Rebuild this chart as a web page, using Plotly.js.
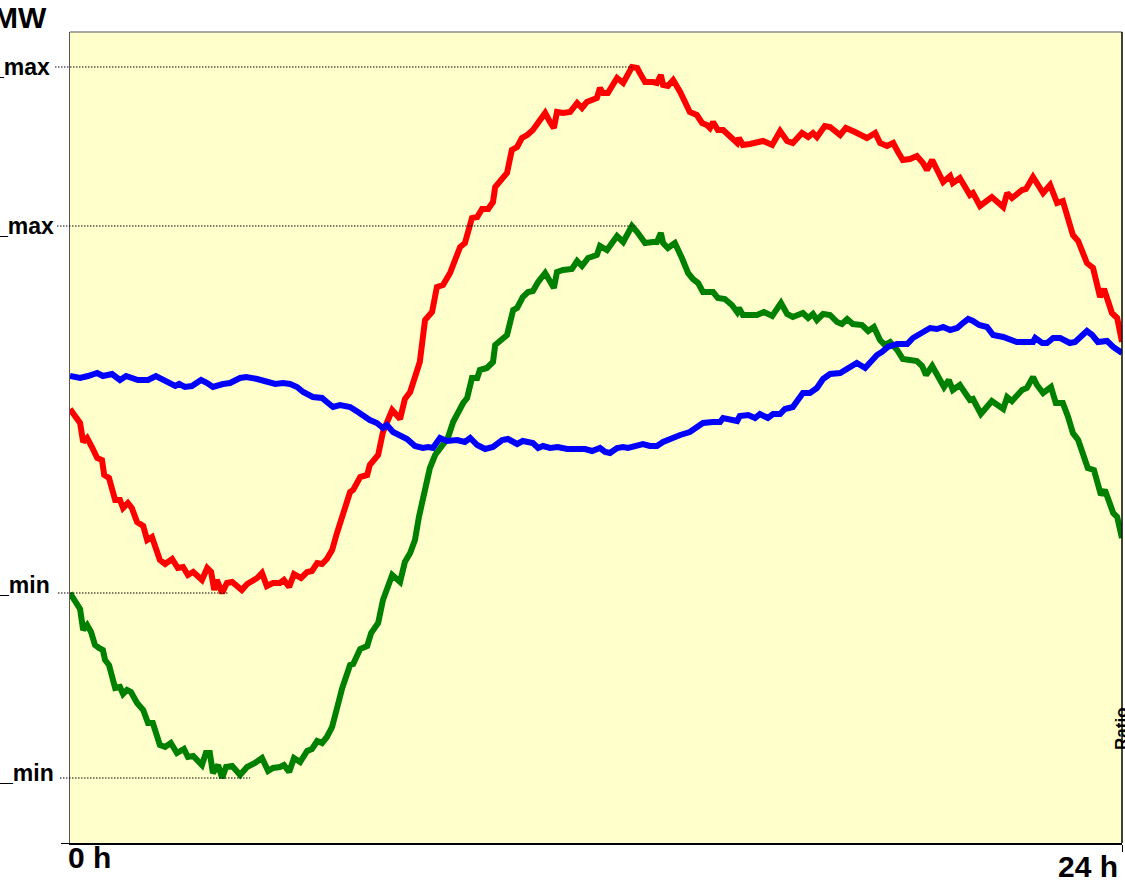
<!DOCTYPE html>
<html>
<head>
<meta charset="utf-8">
<script src="https://cdn.plot.ly/plotly-3.0.1.min.js"></script>
<style>
  html, body { margin: 0; padding: 0; background: #ffffff; }
  #chart { width: 1125px; height: 880px; }
</style>
</head>
<body>
<div id="chart"></div>
<script>
// ---- Data (hours of day, MW in chart units) ----
const redHours = [0,0.23,0.30,0.39,0.50,0.62,0.73,0.78,0.89,1.03,1.14,1.21,1.32,1.41,1.53,1.67,1.76,1.87,2.05,2.17,2.33,2.46,2.58,2.69,2.81,3.01,3.13,3.22,3.29,3.35,3.47,3.58,3.70,3.92,4.04,4.27,4.38,4.49,4.63,4.79,4.88,5.00,5.11,5.27,5.41,5.52,5.64,5.75,5.86,5.98,6.09,6.21,6.39,6.46,6.62,6.78,6.84,7.03,7.14,7.35,7.53,7.64,7.76,7.87,7.98,8.10,8.26,8.37,8.51,8.67,8.78,8.90,9.01,9.17,9.29,9.40,9.54,9.65,9.70,9.86,9.97,10.08,10.20,10.31,10.43,10.56,10.68,10.84,10.95,11.04,11.11,11.25,11.41,11.57,11.68,11.79,12.02,12.09,12.16,12.27,12.48,12.62,12.82,12.94,13.00,13.12,13.30,13.39,13.48,13.53,13.64,13.76,13.92,14.14,14.30,14.42,14.53,14.60,14.67,14.78,14.90,15.10,15.22,15.26,15.35,15.51,15.67,15.81,16.02,16.20,16.36,16.49,16.70,16.84,16.95,17.04,17.22,17.34,17.57,17.70,17.91,18.18,18.37,18.48,18.64,18.78,18.89,19.00,19.16,19.32,19.46,19.55,19.67,19.78,19.92,20.08,20.14,20.30,20.53,20.60,20.76,21.03,21.29,21.38,21.49,21.72,21.81,21.97,22.06,22.20,22.36,22.52,22.65,22.77,22.88,23.00,23.20,23.34,23.50,23.59,23.77,23.89,24.00];
const redMW = [434,420,401,405,396,385,383,368,365,343,343,335,340,335,321,317,303,306,283,279,284,275,276,268,271,263,275,271,253,263,250,260,261,253,259,265,270,257,260,260,263,256,269,265,271,272,280,279,284,293,310,326,351,353,366,368,378,388,411,433,424,444,451,466,481,523,531,556,558,570,583,596,600,625,626,634,634,641,656,665,670,693,696,705,708,713,721,730,721,715,731,730,731,740,735,741,745,755,750,750,765,760,776,775,770,761,761,760,768,758,757,763,751,731,728,720,718,715,721,713,713,706,700,705,698,699,700,702,698,712,702,700,710,706,710,706,717,716,708,715,711,705,710,700,697,700,691,683,684,687,680,673,683,673,661,667,660,665,648,650,637,646,636,650,645,653,654,666,660,650,658,640,642,625,608,602,580,575,546,554,530,525,501];

const greenHours = [0,0.11,0.23,0.30,0.39,0.48,0.57,0.66,0.75,0.80,0.89,1.03,1.14,1.21,1.30,1.39,1.53,1.67,1.78,1.89,2.05,2.17,2.30,2.44,2.60,2.69,2.81,3.01,3.10,3.19,3.26,3.38,3.47,3.56,3.70,3.88,4.04,4.22,4.38,4.52,4.63,4.79,4.88,5.00,5.11,5.25,5.41,5.52,5.64,5.75,5.86,5.98,6.09,6.21,6.39,6.46,6.62,6.78,6.87,7.03,7.14,7.35,7.53,7.64,7.76,7.87,7.96,8.21,8.33,8.49,8.62,8.74,8.85,8.97,9.06,9.17,9.29,9.35,9.51,9.65,9.70,9.86,9.97,10.11,10.20,10.33,10.45,10.56,10.68,10.84,10.95,11.04,11.11,11.25,11.45,11.57,11.68,11.82,12.02,12.09,12.25,12.48,12.62,12.82,12.94,13.00,13.12,13.30,13.39,13.48,13.53,13.64,13.80,13.96,14.10,14.21,14.33,14.44,14.60,14.67,14.78,14.94,15.10,15.22,15.26,15.35,15.51,15.67,15.83,16.02,16.22,16.36,16.49,16.72,16.84,16.95,17.04,17.18,17.34,17.50,17.61,17.73,17.86,18.07,18.21,18.34,18.48,18.59,18.71,18.87,19.00,19.32,19.44,19.53,19.67,19.80,19.94,20.05,20.14,20.30,20.53,20.60,20.78,21.03,21.29,21.38,21.49,21.72,21.83,21.97,22.06,22.20,22.38,22.49,22.65,22.77,22.88,23.00,23.22,23.36,23.52,23.61,23.80,23.89,24.00];
const greenMW = [250,241,234,213,218,211,198,195,193,183,178,155,156,149,153,151,140,133,120,120,98,96,100,90,94,86,87,78,90,90,70,78,65,76,77,68,76,80,85,72,75,76,78,71,85,81,92,94,102,100,106,116,136,155,178,179,194,197,210,220,243,268,261,281,290,303,326,375,388,398,405,421,431,440,445,465,465,473,475,481,498,505,508,533,535,546,551,552,561,570,561,555,571,573,574,582,577,585,588,597,593,607,601,617,611,608,600,601,601,610,600,595,600,585,570,564,560,551,550,551,545,544,538,531,535,528,528,528,531,527,540,529,526,530,525,529,523,529,528,521,519,524,519,518,512,516,503,498,501,493,484,482,477,468,477,466,456,463,453,458,443,444,429,442,434,446,442,453,455,466,458,450,456,440,440,426,410,403,375,373,348,353,330,326,305];

const blueHours = [0,0.23,0.41,0.62,0.75,0.96,1.14,1.28,1.55,1.78,1.96,2.21,2.40,2.49,2.62,2.78,2.99,3.13,3.26,3.49,3.65,3.88,4.02,4.27,4.49,4.68,4.86,5.02,5.18,5.32,5.54,5.75,5.86,6.00,6.16,6.39,6.57,6.73,6.84,7.00,7.14,7.23,7.37,7.69,7.87,8.05,8.17,8.28,8.44,8.60,8.83,9.01,9.13,9.29,9.47,9.65,9.86,9.99,10.20,10.33,10.56,10.68,10.79,10.95,11.13,11.34,11.57,11.75,11.91,12.09,12.21,12.32,12.48,12.62,12.73,12.94,13.07,13.23,13.39,13.53,13.73,13.92,14.14,14.33,14.44,14.67,14.83,14.90,15.06,15.22,15.28,15.47,15.63,15.74,15.92,16.04,16.20,16.31,16.49,16.61,16.72,16.88,17.04,17.18,17.34,17.57,17.73,17.91,17.95,18.14,18.25,18.41,18.52,18.66,18.87,19.10,19.23,19.44,19.62,19.78,19.92,20.08,20.24,20.37,20.49,20.60,20.74,20.92,21.06,21.29,21.44,21.60,21.83,21.97,22.02,22.18,22.29,22.43,22.59,22.81,22.93,23.09,23.20,23.32,23.45,23.66,23.80,24.00];
const blueMW = [467,465,467,470,467,469,463,467,463,463,467,461,457,459,456,457,463,460,456,459,460,465,466,464,461,459,460,459,456,451,446,445,441,436,438,436,431,426,423,420,415,418,411,404,397,395,396,395,405,402,403,401,405,398,394,396,403,404,399,402,400,395,397,395,396,394,394,394,392,395,391,390,395,396,395,398,399,397,397,401,405,408,411,416,420,421,421,425,423,422,427,428,425,429,425,429,429,434,436,444,450,450,455,464,469,470,474,478,480,475,481,488,491,496,499,499,505,511,515,514,516,513,515,520,524,522,518,516,508,506,503,501,501,501,505,500,500,505,505,500,501,507,512,508,501,502,496,490];

const axisLabels = { unit: "MW", start: "0 h", end: "24 h", ratio: "Ratio", maxLabel: "_max", minLabel: "_min" };
const yMaxRange = 811;

// ---- helpers ----
function extreme(xs, ys, useMax) {
  let idx = 0;
  for (let i = 1; i < ys.length; i++) {
    if (useMax ? ys[i] > ys[idx] : ys[i] < ys[idx]) idx = i;
  }
  return { x: xs[idx], y: ys[idx] };
}
const redMax = extreme(redHours, redMW, true);
const redMin = extreme(redHours, redMW, false);
const greenMax = extreme(greenHours, greenMW, true);
const greenMin = extreme(greenHours, greenMW, false);

const FONT = "Liberation Sans, Arial, Helvetica, sans-serif";

const traces = [
  { x: redHours, y: redMW, type: "scatter", mode: "lines", line: { color: "#ff0000", width: 6 }, hoverinfo: "skip", showlegend: false },
  { x: greenHours, y: greenMW, type: "scatter", mode: "lines", line: { color: "#008000", width: 6 }, hoverinfo: "skip", showlegend: false },
  { x: blueHours, y: blueMW, type: "scatter", mode: "lines", line: { color: "#0000ff", width: 6 }, hoverinfo: "skip", showlegend: false }
];

const refLines = [
  { y: redMax.y, x0: -0.0143, x1: redMax.x / 24 },
  { y: greenMax.y, x0: -0.0124, x1: (greenMax.x + 0.1) / 24 },
  { y: redMin.y, x0: -0.0114, x1: (redMin.x + 0.14) / 24 },
  { y: greenMin.y, x0: -0.0095, x1: (greenMin.x + 0.64) / 24 }
];

const shapes = refLines.map(r => ({
  type: "line", xref: "paper", yref: "y", x0: r.x0, x1: r.x1, y0: r.y, y1: r.y,
  line: { color: "#000000", width: 1.2, dash: "1.5px,1.5px" }, layer: "above"
}));
// top border (grey) and right border (black)
shapes.push({ type: "line", xref: "paper", yref: "paper", x0: 0, x1: 1, y0: 1, y1: 1, line: { color: "#8c8c8c", width: 1.5 } });
shapes.push({ type: "line", xref: "paper", yref: "paper", x0: 1, x1: 1, y0: 0, y1: 1, line: { color: "#000000", width: 1.5 } });

const annotations = [
  { text: "<b>" + axisLabels.unit + "</b>", xref: "paper", yref: "paper", x: -0.0195, y: 1.0173, xanchor: "right", yanchor: "middle", showarrow: false, font: { family: FONT, size: 30, color: "#000" } },
  { text: "<b>" + axisLabels.start + "</b>", xref: "paper", yref: "paper", x: -0.004, y: -0.018, xanchor: "left", yanchor: "middle", showarrow: false, font: { family: FONT, size: 30, color: "#000" } },
  { text: "<b>" + axisLabels.end + "</b>", xref: "paper", yref: "paper", x: 0.998, y: -0.029, xanchor: "right", yanchor: "middle", showarrow: false, font: { family: FONT, size: 30, color: "#000" } },
  { text: "<b>" + axisLabels.ratio + "</b>", xref: "paper", yref: "paper", x: 1.0, y: 0.1406, xanchor: "center", yanchor: "middle", textangle: -90, showarrow: false, font: { family: FONT, size: 17, color: "#000" } },
  { text: "<b>" + axisLabels.maxLabel + "</b>", xref: "paper", yref: "y", x: -0.017, y: redMax.y, xanchor: "right", yanchor: "middle", showarrow: false, font: { family: FONT, size: 23, color: "#000" } },
  { text: "<b>" + axisLabels.maxLabel + "</b>", xref: "paper", yref: "y", x: -0.0135, y: greenMax.y, xanchor: "right", yanchor: "middle", showarrow: false, font: { family: FONT, size: 23, color: "#000" } },
  { text: "<b>" + axisLabels.minLabel + "</b>", xref: "paper", yref: "y", x: -0.017, y: redMin.y, yshift: 8, xanchor: "right", yanchor: "middle", showarrow: false, font: { family: FONT, size: 23, color: "#000" } },
  { text: "<b>" + axisLabels.minLabel + "</b>", xref: "paper", yref: "y", x: -0.0135, y: greenMin.y, yshift: 5, xanchor: "right", yanchor: "middle", showarrow: false, font: { family: FONT, size: 23, color: "#000" } }
];

const layout = {
  width: 1125, height: 880,
  margin: { l: 70, r: 3, t: 32, b: 37, pad: 0 },
  paper_bgcolor: "#ffffff",
  plot_bgcolor: "#ffffcc",
  showlegend: false,
  font: { family: FONT, color: "#000" },
  xaxis: {
    range: [0, 24], showgrid: false, zeroline: false, showline: true, linecolor: "#000000", linewidth: 1.5,
    tickvals: [24], ticks: "outside", ticklen: 7, tickcolor: "#000", tickwidth: 1, showticklabels: false, fixedrange: true
  },
  yaxis: {
    range: [0, yMaxRange], showgrid: false, zeroline: false, showline: true, linecolor: "#555555", linewidth: 1.5,
    tickvals: [0], ticks: "outside", ticklen: 8, tickcolor: "#000", tickwidth: 1, showticklabels: false, fixedrange: true
  },
  shapes: shapes,
  annotations: annotations
};

Plotly.newPlot("chart", traces, layout, { displayModeBar: false, staticPlot: true });
</script>
</body>
</html>
